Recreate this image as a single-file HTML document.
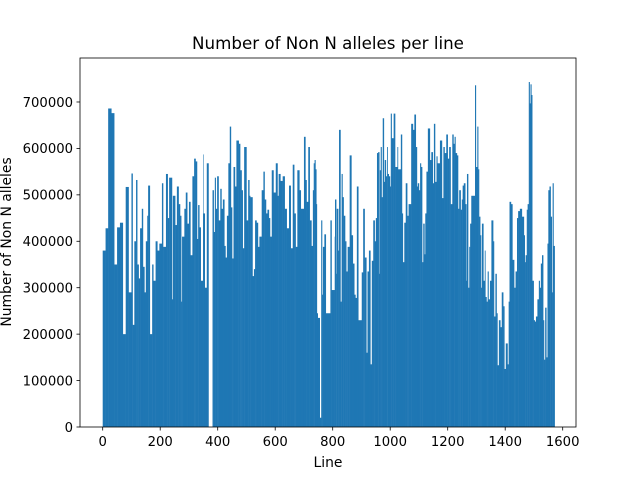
<!DOCTYPE html>
<html><head><meta charset="utf-8">
<style>
html,body{margin:0;padding:0;background:#fff;}
svg{display:block;font-family:"DejaVu Sans","Liberation Sans",sans-serif;}
</style></head>
<body>
<svg id="chart" width="640" height="480" viewBox="0 0 640 480">
<rect x="0" y="0" width="640" height="480" fill="#fff"/>
<g id="bars"></g>
<g id="axes"></g>
<text x="328" y="49" text-anchor="middle" font-size="16.7">Number of Non N alleles per line</text>
<text x="328" y="467" text-anchor="middle" font-size="13.9">Line</text>
<text x="0" y="0" transform="translate(11,242) rotate(-90)" text-anchor="middle" font-size="13.9">Number of Non N alleles</text>
</svg>
<script>
const lineIds = [0,10,19,30,40,50,60,70,80,90,100,104,110,116,120,125,130,136,140,145,150,155,158,164,172,176,184,190,197,206,210,220,226,231,241,244,252,258,264,269,273,276,284,289,294,300,305,312,318,323,328,332,336,341,349,350,355,362,382,386,390,393,398,403,409,413,418,423,427,432,437,442,446,450,455,460,465,473,478,483,487,492,500,506,510,513,521,526,530,535,540,545,553,559,563,568,573,578,582,588,594,602,608,612,618,626,633,640,648,654,661,666,671,677,684,689,700,705,709,715,720,726,731,734,737,740,743,745,748,755,760,763,766,771,776,
792,796,807,808,812,814,819,822,827,831,834,838,843,847,852,859,865,870,875,879,884,889,901,906,911,917,921,926,931,936,941,946,950,954,958,962,964,967,970,974,978,981,985,989,991,995,999,1002,1005,1012,1017,1025,1027,1037,1041,1044,1049,1054,1059,1064,1073,1079,1084,1089,1093,1096,1100,1104,1107,1111,1115,1119,1122,1126,1131,1138,1143,1148,1152,1156,1161,1164,1173,1180,1185,1189,1195,1200,1205,1210,1216,1220,1224,1227,1232,1236,1240,1245,1249,1252,1256,1261,1265,1267,1271,1275,1278,1282,1295,1298,1303,1306,1309,1313,1316,1319,1324,1329,1331,1335,1339,1342,1347,1352,1358,1361,1366,1370,1373,1378,1383,1388,1393,1397,1402,1408,1412,1415,1420,1425,1431,1436,1441,1445,1451,1458,1465,1468,1471,1475,1478,1482,1485,1488,1491,1494,1499,1503,1507,1512,1517,1520,1524,1528,1532,1535,1539,1543,1547,1550,1554,1558,1562,1565,1568];
const alleleCounts = [380,428,686,676,350,430,440,200,517,290,546,220,400,532,350,320,428,470,345,290,400,455,520,200,350,315,400,380,395,525,388,545,450,537,275,498,435,518,480,455,270,410,470,505,438,485,370,540,578,572,405,478,430,315,587,460,300,568,510,420,537,470,540,445,513,470,490,390,365,455,568,647,473,363,560,518,617,610,553,510,385,603,445,532,498,495,325,340,445,440,388,410,510,550,490,460,468,450,410,553,505,568,498,545,530,540,470,428,520,385,565,460,388,553,510,470,625,532,485,603,445,390,510,568,575,555,480,245,235,20,445,285,388,415,245,
445,295,410,490,330,470,380,640,270,545,495,455,400,335,388,585,413,352,285,278,518,230,333,470,365,160,335,380,135,358,445,400,450,590,592,330,553,603,495,665,528,575,540,603,545,540,518,675,622,675,560,603,555,630,460,355,440,525,455,480,653,640,673,603,518,525,510,568,560,355,438,372,460,550,643,575,592,525,653,528,583,568,617,493,603,590,630,578,603,480,630,610,625,590,585,470,510,468,490,520,525,480,315,545,300,388,438,498,736,560,647,555,453,413,300,438,315,380,280,270,335,275,315,445,400,238,330,245,133,230,215,290,260,125,180,135,270,485,480,360,300,335,450,465,470,453,413,355,370,468,480,743,697,738,715,315,230,227,238,275,315,300,352,370,230,145,257,150,395,510,518,453,290,525,390];
const xTicks = [0,200,400,600,800,1000,1200,1400,1600];
const yTicks = [0,100000,200000,300000,400000,500000,600000,700000];

const NS = "http://www.w3.org/2000/svg";
const L = 80, R = 576, T = 58, B = 427;
const x0px = 102.7, pxPerLine = 0.2875;
const pxPer100k = 46.43;
function xs(v){ return x0px + v * pxPerLine; }
function ys(v){ return B - v / 100000 * pxPer100k; }

const barsG = document.getElementById('bars');
for (let i = 0; i < lineIds.length; i++) {
  let next = i < lineIds.length - 1 ? lineIds[i+1] : lineIds[i] + 4;
  if (next - lineIds[i] > 16) next = lineIds[i] + 6;
  const w = (xs(next) - xs(lineIds[i])) + 0.25;
  const v = alleleCounts[i] * 1000;
  const r = document.createElementNS(NS, 'rect');
  r.setAttribute('x', xs(lineIds[i]));
  r.setAttribute('y', ys(v));
  r.setAttribute('width', w);
  r.setAttribute('height', B - ys(v));
  r.setAttribute('fill', '#1f77b4');
  
  
  barsG.appendChild(r);
}

const axesG = document.getElementById('axes');
const frame = document.createElementNS(NS, 'rect');
frame.setAttribute('x', L); frame.setAttribute('y', T);
frame.setAttribute('width', R - L); frame.setAttribute('height', B - T);
frame.setAttribute('fill', 'none'); frame.setAttribute('stroke', '#000'); frame.setAttribute('stroke-width', '0.8');


axesG.appendChild(frame);

xTicks.forEach(t => {
  const x = xs(t);
  const ln = document.createElementNS(NS, 'line');
  ln.setAttribute('x1', x); ln.setAttribute('x2', x); ln.setAttribute('y1', B); ln.setAttribute('y2', B + 3.5);
  ln.setAttribute('stroke', '#000'); ln.setAttribute('stroke-width', '0.8');
  
  
  axesG.appendChild(ln);
  const tx = document.createElementNS(NS, 'text');
  tx.setAttribute('x', x); tx.setAttribute('y', B + 19);
  tx.setAttribute('text-anchor', 'middle'); tx.setAttribute('font-size', '13.2');
  tx.textContent = t;
  
  
  axesG.appendChild(tx);
});
yTicks.forEach(t => {
  const y = ys(t);
  const ln = document.createElementNS(NS, 'line');
  ln.setAttribute('x1', L - 3.5); ln.setAttribute('x2', L); ln.setAttribute('y1', y); ln.setAttribute('y2', y);
  ln.setAttribute('stroke', '#000'); ln.setAttribute('stroke-width', '0.8');
  
  
  axesG.appendChild(ln);
  const tx = document.createElementNS(NS, 'text');
  tx.setAttribute('x', L - 7); tx.setAttribute('y', y + 4.8);
  tx.setAttribute('text-anchor', 'end'); tx.setAttribute('font-size', '13.2');
  tx.textContent = t;
  
  
  axesG.appendChild(tx);
});
</script>
</body></html>
